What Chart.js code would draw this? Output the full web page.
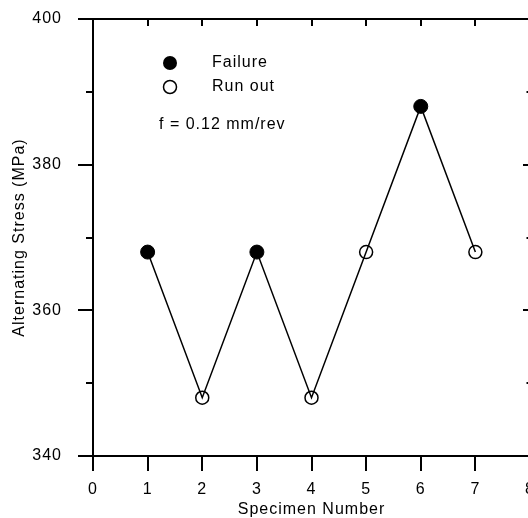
<!DOCTYPE html>
<html><head><meta charset="utf-8">
<script src="https://cdn.jsdelivr.net/npm/chart.js@4.4.1/dist/chart.umd.min.js"></script>
<style>
html,body{margin:0;padding:0;background:#fff;overflow:hidden;}
#wrap{width:528px;height:518px;overflow:hidden;position:relative;background:#fff;}
canvas{display:block;}
</style></head><body>
<div id="wrap"><canvas id="c" width="545" height="518" style="width:545px;height:518px"></canvas></div>
<script>
// ---- data ----
const specimens = [1, 2, 3, 4, 5, 6, 7];
const stress = [368, 348, 368, 348, 368, 388, 368];
const outcome = ['Failure', 'Run out', 'Failure', 'Run out', 'Run out', 'Failure', 'Run out'];
const xTickValues = [0, 1, 2, 3, 4, 5, 6, 7, 8];
const yMajorTicks = [340, 360, 380, 400];
const yMinorTicks = [350, 370, 390];
const seriesNames = ['Failure', 'Run out'];
const noteText = 'f = 0.12 mm/rev';
const xTitle = 'Specimen Number';
const yTitle = 'Alternating Stress (MPa)';

const FONT = '"Liberation Sans", Arial, Helvetica, sans-serif';
const allPts = specimens.map((s, i) => ({x: s, y: stress[i]}));
const failPts = allPts.filter((p, i) => outcome[i] === 'Failure');
const runPts = allPts.filter((p, i) => outcome[i] === 'Run out');

const spacingPlugin = {
  id: 'spacing',
  beforeDraw(chart) { chart.ctx.letterSpacing = '1px'; }
};

const framePlugin = {
  id: 'frame',
  afterDraw(chart) {
    const ctx = chart.ctx, a = chart.chartArea;
    const xs = chart.scales.x, ys = chart.scales.y;
    const L = Math.round(a.left), R = Math.round(a.right), T = Math.round(a.top), B = Math.round(a.bottom);
    ctx.save();
    ctx.strokeStyle = '#000';
    ctx.lineWidth = 2;
    ctx.lineCap = 'butt';
    ctx.beginPath();
    ctx.moveTo(L - 15, T); ctx.lineTo(R, T);
    ctx.moveTo(L - 15, B); ctx.lineTo(R, B);
    ctx.moveTo(L, T); ctx.lineTo(L, B + 15);
    ctx.moveTo(R, T); ctx.lineTo(R, B + 15);
    xTickValues.forEach(v => {
      const px = Math.round(xs.getPixelForValue(v));
      ctx.moveTo(px, B); ctx.lineTo(px, B + 15);
      ctx.moveTo(px, T); ctx.lineTo(px, T + 7);
    });
    yMajorTicks.forEach(v => {
      const py = Math.round(ys.getPixelForValue(v));
      ctx.moveTo(L - 15, py); ctx.lineTo(L, py);
      ctx.moveTo(R - 7, py); ctx.lineTo(R, py);
    });
    yMinorTicks.forEach(v => {
      const py = Math.round(ys.getPixelForValue(v));
      ctx.moveTo(L - 7, py); ctx.lineTo(L, py);
      ctx.moveTo(R - 3.5, py); ctx.lineTo(R, py);
    });
    ctx.stroke();

    // legend (inside plot area)
    const lx = L + 77, ly1 = T + 44, ly2 = T + 68;
    ctx.fillStyle = '#000';
    ctx.beginPath(); ctx.arc(lx, ly1, 7, 0, Math.PI * 2); ctx.fill();
    ctx.lineWidth = 1.5;
    ctx.beginPath(); ctx.arc(lx, ly2, 6.5, 0, Math.PI * 2); ctx.stroke();
    ctx.letterSpacing = '1px';
    ctx.font = '16px ' + FONT;
    ctx.textAlign = 'left';
    ctx.textBaseline = 'middle';
    ctx.fillText(seriesNames[0], L + 119, ly1);
    ctx.fillText(seriesNames[1], L + 119, ly2);
    ctx.fillText(noteText, L + 66, T + 106);
    ctx.restore();
  }
};

new Chart(document.getElementById('c'), {
  type: 'scatter',
  data: {
    datasets: [
      { label: 'path', data: allPts, showLine: true, borderColor: '#000', borderWidth: 1.5,
        pointRadius: 0, pointHoverRadius: 0, order: 3 },
      { label: seriesNames[0], data: failPts, pointRadius: 7, pointHoverRadius: 7,
        pointBackgroundColor: '#000', pointBorderColor: '#000', pointBorderWidth: 1, order: 1 },
      { label: seriesNames[1], data: runPts, pointRadius: 6.5, pointHoverRadius: 6.5,
        pointBackgroundColor: 'rgba(0,0,0,0)', pointBorderColor: '#000', pointBorderWidth: 1.5, order: 2 }
    ]
  },
  options: {
    responsive: false,
    animation: false,
    events: [],
    layout: { padding: { top: 19, right: 15, left: 0, bottom: 0 } },
    plugins: { legend: { display: false }, tooltip: { enabled: false } },
    scales: {
      x: {
        type: 'linear', min: 0, max: 8,
        grid: { display: false }, border: { display: false },
        ticks: { stepSize: 1, color: '#000', padding: 16, maxRotation: 0, autoSkip: false,
                 font: { family: FONT, size: 16 } },
        title: { display: true, text: xTitle, color: '#000', padding: { top: 0, bottom: -1 },
                 font: { family: FONT, size: 16 } },
        afterFit(s) { s.height = 62; s.paddingLeft = 0; s.paddingRight = 0; }
      },
      y: {
        type: 'linear', min: 340, max: 400,
        grid: { display: false }, border: { display: false },
        ticks: { stepSize: 20, color: '#000', padding: 23, font: { family: FONT, size: 16 } },
        title: { display: true, text: yTitle, color: '#000', padding: { top: 10, bottom: 0 },
                 font: { family: FONT, size: 16 } },
        afterFit(s) { s.width = 93; s.paddingTop = 0; s.paddingBottom = 0; }
      }
    }
  },
  plugins: [spacingPlugin, framePlugin]
});
</script>
</body></html>
